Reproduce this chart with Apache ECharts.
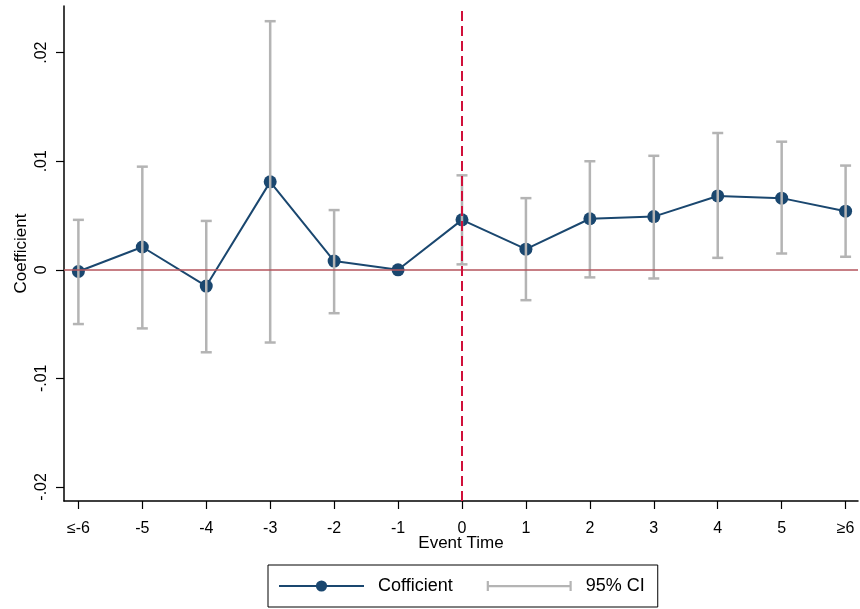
<!DOCTYPE html>
<html>
<head>
<meta charset="utf-8">
<script src="https://cdn.jsdelivr.net/npm/echarts@6/dist/echarts.min.js"></script>
<style>html,body{margin:0;padding:0;background:#fff;}#c{width:860px;height:609px;}</style>
</head>
<body>
<div id="c"></div>
<script>
// Data
var eventTimes = [-6, -5, -4, -3, -2, -1, 0, 1, 2, 3, 4, 5, 6];
var tickLabels = ['≤-6', '-5', '-4', '-3', '-2', '-1', '0', '1', '2', '3', '4', '5', '≥6'];
var coefficients = [-0.00016, 0.0021, -0.0015, 0.0081, 0.0008, 0.0000, 0.0046, 0.0019, 0.0047, 0.0049, 0.0068, 0.0066, 0.0054];
var ciLower = [-0.0050, -0.0054, -0.0076, -0.0067, -0.0040, null, 0.0005, -0.0028, -0.0007, -0.0008, 0.0011, 0.0015, 0.0012];
var ciUpper = [0.0046, 0.0095, 0.0045, 0.0229, 0.0055, null, 0.0087, 0.0066, 0.0100, 0.0105, 0.0126, 0.0118, 0.0096];
var yTicks = [-0.02, -0.01, 0, 0.01, 0.02];
var yTickLabels = ['-.02', '-.01', '0', '.01', '.02'];

var lineData = eventTimes.map(function (t, i) { return [t, coefficients[i]]; });
var ciData = [];
eventTimes.forEach(function (t, i) {
  if (ciLower[i] !== null) ciData.push([t, ciLower[i], ciUpper[i]]);
});

var FONT = 'Liberation Sans, Arial, sans-serif';
var chart = echarts.init(document.getElementById('c'), null, {renderer: 'canvas'});
var ciIcon = 'path://M0,2h2.2v10h-2.2z M2.2,6h80.6v2.2h-80.6z M82.8,2h2.2v10h-2.2z';

chart.setOption({
  animation: false,
  backgroundColor: '#fff',
  grid: {left: 64, right: 2, top: 6, bottom: 108, containLabel: false, outerBoundsMode: 'none'},
  xAxis: {
    type: 'value',
    min: -6.225,
    max: 6.194,
    name: 'Event Time',
    nameLocation: 'middle',
    nameGap: 34,
    nameMoveOverlap: false,
    nameTextStyle: {color: '#000', fontFamily: FONT, fontSize: 17},
    axisLine: {show: true, onZero: false, lineStyle: {color: '#000', width: 1.5}},
    axisTick: {show: true, length: 8, inside: false, customValues: eventTimes, lineStyle: {color: '#000', width: 1.2}},
    axisLabel: {
      show: true, margin: 20, color: '#000', fontFamily: FONT, fontSize: 16,
      customValues: eventTimes,
      formatter: function (v) { var i = eventTimes.indexOf(Math.round(v)); return i >= 0 ? tickLabels[i] : ''; }
    },
    splitLine: {show: false}
  },
  yAxis: {
    type: 'value',
    min: -0.0213,
    max: 0.0243,
    name: 'Coefficient',
    nameLocation: 'middle',
    nameGap: 34,
    nameMoveOverlap: false,
    nameRotate: 90,
    nameTextStyle: {color: '#000', fontFamily: FONT, fontSize: 17},
    axisLine: {show: true, onZero: false, lineStyle: {color: '#000', width: 1.5}},
    axisTick: {show: true, length: 8, inside: false, customValues: yTicks, lineStyle: {color: '#000', width: 1.2}},
    axisLabel: {
      show: true, rotate: 90, margin: 14, color: '#000', fontFamily: FONT, fontSize: 16,
      customValues: yTicks,
      formatter: function (v) {
        var best = 0;
        yTicks.forEach(function (t, i) { if (Math.abs(t - v) < Math.abs(yTicks[best] - v)) best = i; });
        return yTickLabels[best];
      }
    },
    splitLine: {show: false}
  },
  legend: {
    left: 268,
    top: 565,
    orient: 'horizontal',
    itemWidth: 85,
    itemHeight: 14,
    itemGap: 34,
    padding: [12, 13, 12, 10],
    borderColor: '#000',
    borderWidth: 1,
    textStyle: {color: '#000', fontFamily: FONT, fontSize: 18, padding: [0, 0, 0, 9]},
    data: [
      {name: 'Cofficient'},
      {name: '95% CI', icon: ciIcon, itemStyle: {color: '#b4b4b4'}}
    ]
  },
  series: [
    {
      name: 'refLines',
      type: 'line',
      data: [],
      z: 1,
      silent: true,
      markLine: {
        silent: true,
        symbol: 'none',
        label: {show: false},
        animation: false,
        data: [
          {yAxis: 0, lineStyle: {color: '#b4545c', width: 1.5, type: 'solid'}},
          {xAxis: 0, lineStyle: {color: '#d0103a', width: 2, type: [10, 5]}}
        ]
      }
    },
    {
      name: 'Cofficient',
      type: 'line',
      z: 3,
      data: lineData,
      symbol: 'circle',
      symbolSize: 13,
      showSymbol: true,
      lineStyle: {color: '#1a476f', width: 2},
      itemStyle: {color: '#1a476f'}
    },
    {
      name: '95% CI',
      type: 'custom',
      z: 4,
      data: ciData,
      itemStyle: {color: '#b4b4b4'},
      encode: {x: 0, y: [1, 2]},
      renderItem: function (params, api) {
        var x = api.value(0);
        var lo = api.coord([x, api.value(1)]);
        var hi = api.coord([x, api.value(2)]);
        var cap = 5.5;
        var style = {stroke: '#b4b4b4', lineWidth: 2.5, fill: null};
        return {
          type: 'group',
          children: [
            {type: 'line', shape: {x1: lo[0], y1: lo[1], x2: hi[0], y2: hi[1]}, style: style},
            {type: 'line', shape: {x1: lo[0] - cap, y1: lo[1], x2: lo[0] + cap, y2: lo[1]}, style: style},
            {type: 'line', shape: {x1: hi[0] - cap, y1: hi[1], x2: hi[0] + cap, y2: hi[1]}, style: style}
          ]
        };
      }
    }
  ]
});
</script>
</body>
</html>
